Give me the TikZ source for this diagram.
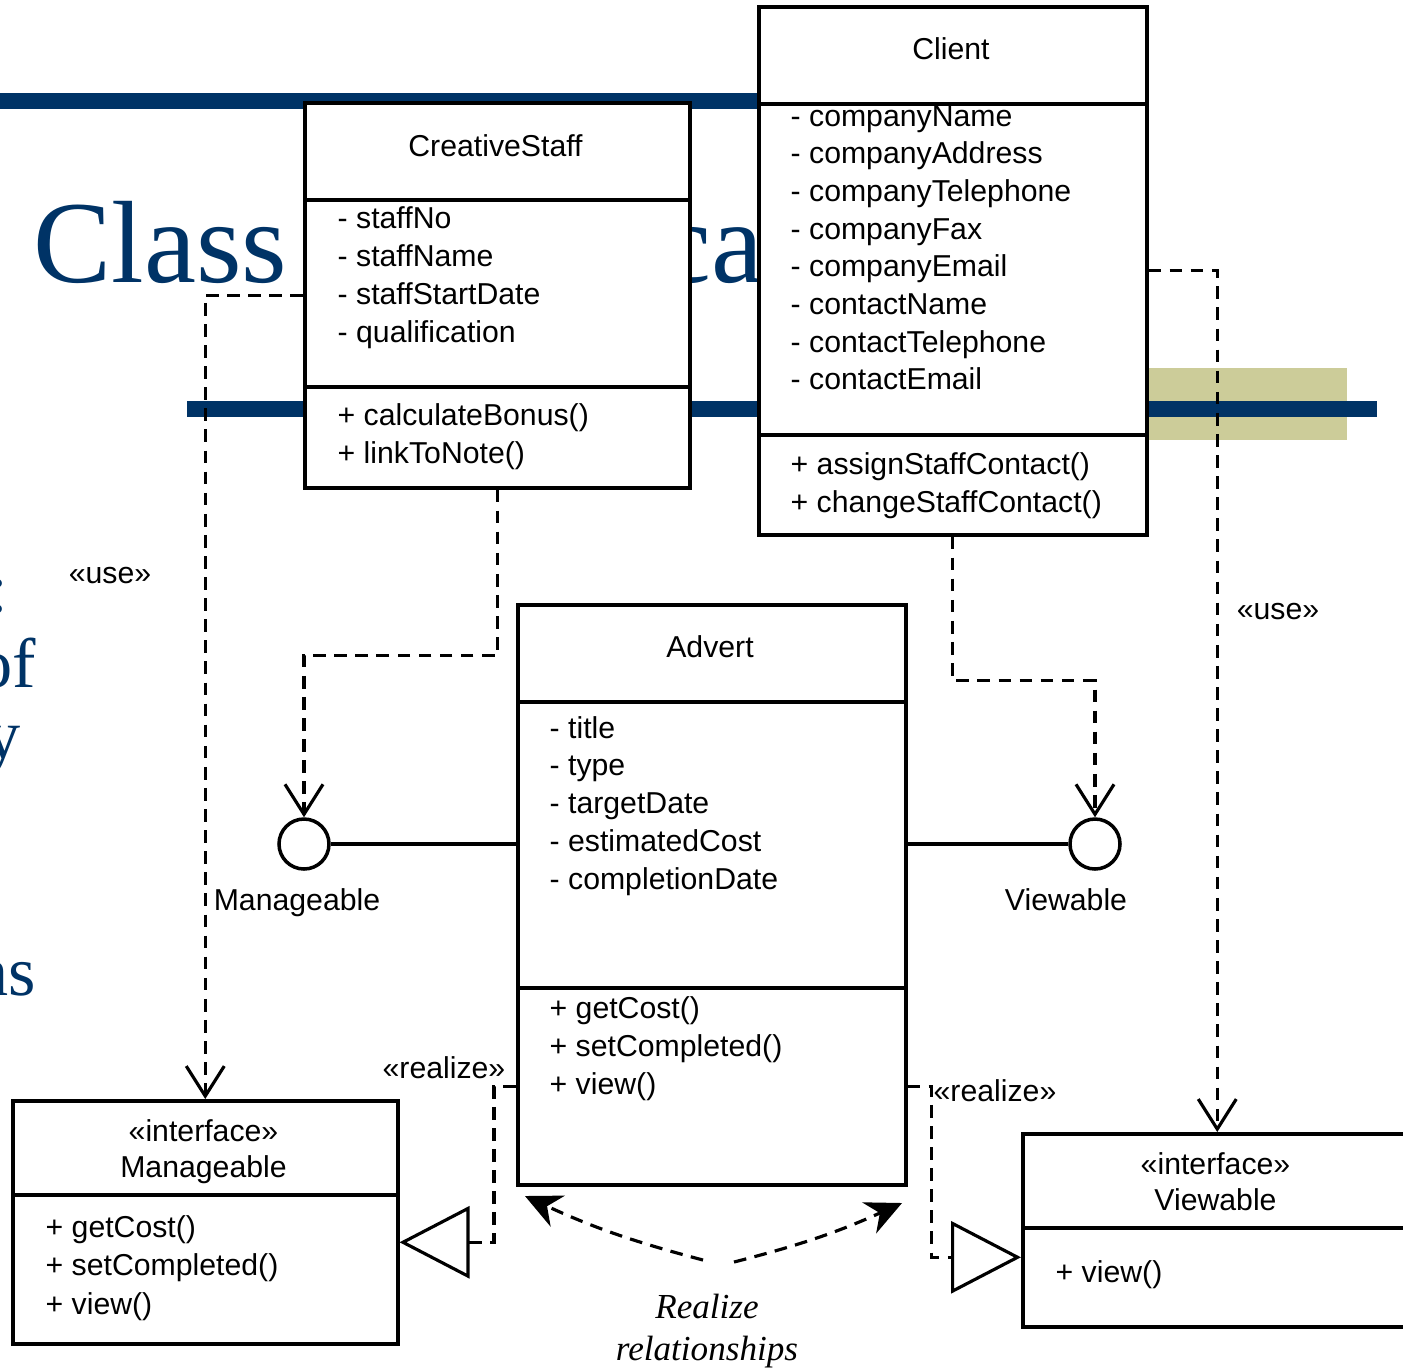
\documentclass[tikz,border=0pt]{standalone}
\usepackage{fontspec}
\usetikzlibrary{arrows.meta}
\newfontfamily\umlfont{Liberation Sans}
\newfontfamily\slidefont{Liberation Serif}
\newcommand\umltext{\umlfont\fontsize{8.6}{10.3}\selectfont}
\definecolor{slideblue}{RGB}{0,51,102}
\definecolor{slidekhaki}{RGB}{204,204,153}
\tikzset{
	classbox/.style={draw, fill=white, line width=1pt, inner sep=0pt, anchor=north west},
	member/.style={anchor=base west, inner sep=0pt, font=\umltext},
	classname/.style={anchor=base, inner sep=0pt, font=\umltext},
	lollipop/.style={circle, draw, fill=white, line width=1pt, minimum size=0.5cm, inner sep=0pt},
	dep/.style={line width=0.9pt, dash pattern=on 3.6pt off 2.4pt, -{Straight Barb[length=0.3cm,width=0.38cm]}},
	realizes/.style={line width=0.9pt, dash pattern=on 3.6pt off 2.4pt, -{Triangle[open,fill=white,length=0.7cm,width=0.72cm]}},
	pointer/.style={line width=0.9pt, dash pattern=on 3.6pt off 2.4pt, -{Stealth[length=0.36cm,width=0.34cm]}},
	slidetitle/.style={anchor=base west, inner sep=0pt, text=slideblue, font=\slidefont\fontsize{33.3}{36}\selectfont},
	bodytext/.style={anchor=base east, inner sep=0pt, text=slideblue, font=\slidefont\fontsize{20}{24}\selectfont}
}
\begin{document}
\begin{tikzpicture}
	\useasboundingbox (0,0) rectangle (14.03,-13.67);
	\clip (0,0) rectangle (14.03,-13.67);

	\fill[slideblue] (0,-0.93) rectangle (8.0,-1.09);
	\fill[slidekhaki] (11.0,-3.68) rectangle (13.47,-4.40);
	\fill[slideblue] (1.87,-4.01) rectangle (13.77,-4.17);
	\node[slidetitle] (title1) at (0.33,-2.82) {Class};
	\node[slidetitle] (title2) at (3.27,-2.82) {Specification};
	\foreach \t/\x/\y [count=\i] in {:/0.09/6.12, of/0.37/6.87, y/0.21/7.58, ns/0.37/9.95}
		\node[bodytext] (body\i) at (\x,-\y) {\t};

	\node[classbox, minimum width=3.85cm, minimum height=3.85cm] (staff) at (3.03,-1.01) {};
	\draw[line width=1pt] (staff.west |- 0,-2.00) -- (staff.east |- 0,-2.00);
	\draw[line width=1pt] (staff.west |- 0,-3.87) -- (staff.east |- 0,-3.87);
	\node[classname] (staffname) at (4.955,-1.56) {CreativeStaff};
	\foreach \a [count=\i from 0] in {staffNo,staffName,staffStartDate,qualification}
		\node[member] (staffattr\i) at (3.37,-2.28-0.38*\i) {- \a};
	\foreach \a [count=\i from 0] in {calculateBonus(),linkToNote()}
		\node[member] (staffop\i) at (3.37,-4.25-0.38*\i) {+ \a};

	\node[classbox, minimum width=3.88cm, minimum height=5.28cm] (client) at (7.57,-0.05) {};
	\draw[line width=1pt] (client.west |- 0,-1.04) -- (client.east |- 0,-1.04);
	\draw[line width=1pt] (client.west |- 0,-4.35) -- (client.east |- 0,-4.35);
	\node[classname] (clientname) at (9.51,-0.59) {Client};
	\foreach \a [count=\i from 0] in {companyName,companyAddress,companyTelephone,companyFax,companyEmail,contactName,contactTelephone,contactEmail}
		\node[member] (clientattr\i) at (7.90,-1.26-0.377*\i) {- \a};
	\foreach \a [count=\i from 0] in {assignStaffContact(),changeStaffContact()}
		\node[member] (clientop\i) at (7.90,-4.74-0.38*\i) {+ \a};

	\node[classbox, minimum width=3.88cm, minimum height=5.80cm] (advert) at (5.16,-6.03) {};
	\draw[line width=1pt] (advert.west |- 0,-7.02) -- (advert.east |- 0,-7.02);
	\draw[line width=1pt] (advert.west |- 0,-9.88) -- (advert.east |- 0,-9.88);
	\node[classname] (advertname) at (7.10,-6.57) {Advert};
	\foreach \a [count=\i from 0] in {title,type,targetDate,estimatedCost,completionDate}
		\node[member] (advertattr\i) at (5.49,-7.38-0.378*\i) {- \a};
	\foreach \a [count=\i from 0] in {getCost(),setCompleted(),view()}
		\node[member] (advertop\i) at (5.49,-10.18-0.38*\i) {+ \a};

	\node[classbox, minimum width=3.85cm, minimum height=2.43cm] (miface) at (0.11,-10.99) {};
	\draw[line width=1pt] (miface.west |- 0,-11.95) -- (miface.east |- 0,-11.95);
	\node[classname] (mstereo) at (2.035,-11.41) {«interface»};
	\node[classname] (mname) at (2.035,-11.77) {Manageable};
	\foreach \a [count=\i from 0] in {getCost(),setCompleted(),view()}
		\node[member] (mop\i) at (0.45,-12.37-0.385*\i) {+ \a};

	\node[classbox, minimum width=3.89cm, minimum height=1.93cm] (viface) at (10.21,-11.32) {};
	\draw[line width=1pt] (viface.west |- 0,-12.28) -- (viface.east |- 0,-12.28);
	\node[classname] (vstereo) at (12.155,-11.74) {«interface»};
	\node[classname] (vname) at (12.155,-12.10) {Viewable};
	\node[member] (vop0) at (10.55,-12.82) {+ view()};

	\node[lollipop] (mcirc) at (3.04,-8.44) {};
	\node[lollipop] (vcirc) at (10.95,-8.44) {};
	\draw[line width=1pt] (mcirc.east) -- (mcirc -| advert.west);
	\draw[line width=1pt] (vcirc.west) -- (vcirc -| advert.east);
	\node[classname] (mlabel) at (2.97,-9.10) {Manageable};
	\node[classname] (vlabel) at (10.66,-9.10) {Viewable};

	\draw[dep] (staff.south) -- ++(0,-1.66) -| (mcirc.north);
	\draw[dep] (client.south) -- ++(0,-1.44) -| (vcirc.north);
	\draw[dep] (staff.west) -| (miface.north);
	\draw[dep] (client.east) -| (viface.north);
	\node[classname] (useleft) at (1.10,-5.83) {«use»};
	\node[classname] (useright) at (12.78,-6.19) {«use»};

	\draw[realizes] ([yshift=-1.92cm]advert.west) -- ++(-0.22,0) |- ([yshift=-0.2cm]miface.east);
	\draw[realizes] ([yshift=-1.92cm]advert.east) -- ++(0.24,0) |- ([yshift=-0.27cm]viface.west);
	\node[classname] (realleft) at (4.44,-10.78) {«realize»};
	\node[classname] (realright) at (9.95,-11.01) {«realize»};

	\node[anchor=base, inner sep=0pt, font=\slidefont\itshape\fontsize{10}{12}\selectfont] (note1) at (7.07,-13.18) {Realize};
	\node[anchor=base, inner sep=0pt, font=\slidefont\itshape\fontsize{10}{12}\selectfont] (note2) at (7.07,-13.60) {relationships};
	\coordinate (lefttail) at (7.03,-12.60);
	\coordinate (lefthead) at (5.25,-11.96);
	\coordinate (righttail) at (7.34,-12.62);
	\coordinate (righthead) at (9.02,-12.03);
	\draw[pointer] (lefttail) to[bend left=5] (lefthead);
	\draw[pointer] (righttail) to[bend right=5] (righthead);
\end{tikzpicture}
\end{document}
